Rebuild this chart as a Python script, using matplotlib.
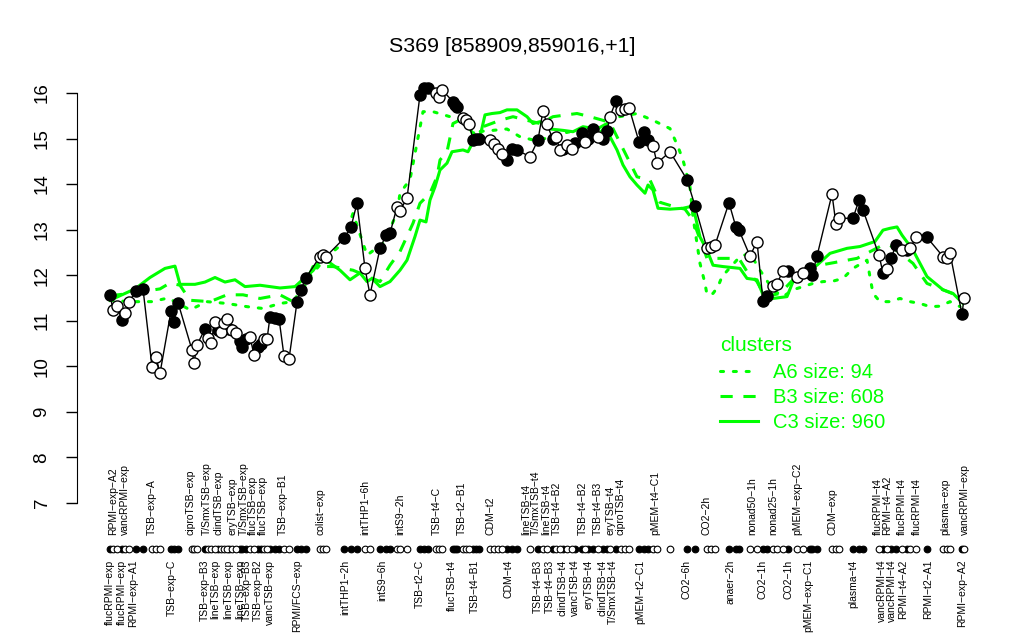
import numpy as np
import matplotlib
matplotlib.use("Agg")
import matplotlib.pyplot as plt

plt.rcParams['font.family'] = ['Liberation Sans', 'DejaVu Sans']

# ============================================
# DATA
# ============================================

title = "S369 [858909,859016,+1]"

# sample position along the x axis, expression value, filled marker (1) or open (0)
pos = [10, 13, 17, 22, 25, 29, 36, 43,
       52, 56, 60, 71, 74, 78, 92, 94, 97,
       105, 108, 111, 115, 118, 121, 124, 127, 129, 132, 136, 140, 142, 146, 150,
       154, 158, 161, 164, 167, 170, 175, 179, 184, 189,
       197, 201, 206, 220, 223, 226, 244, 251, 257, 265, 270,
       280, 286, 290, 297, 300, 307, 320, 324, 328, 336, 339, 342,
       353, 355, 357, 363, 366, 369, 373, 376, 379, 390, 394, 398, 402,
       407, 412, 417, 430, 438, 443, 447, 453, 456, 460, 463, 467, 472,
       475, 482, 485, 488, 493, 498, 503, 507, 510, 516, 521, 525, 529,
       539, 544, 548, 553, 557, 570, 587, 595, 607, 611, 615,
       629, 636, 639, 650, 657, 663, 667, 673, 677, 683, 688,
       697, 703, 710, 712, 717, 732, 736, 739, 753, 759, 763,
       779, 783, 787, 791, 796, 802, 807, 810, 816, 827,
       843, 847, 850, 862, 864]

expr = [11.57, 11.24, 11.32, 11.02, 11.18, 11.41, 11.66, 11.70,
        9.99, 10.20, 9.85, 11.21, 10.97, 11.40, 10.36, 10.07, 10.47,
        10.82, 10.62, 10.52, 10.98, 10.80, 10.76, 10.95, 11.04, 10.83, 10.80, 10.73, 10.55, 10.43, 10.59, 10.65,
        10.25, 10.42, 10.49, 10.61, 10.59, 11.09, 11.07, 11.05, 10.23, 10.16,
        11.41, 11.68, 11.95, 12.41, 12.44, 12.41, 12.81, 13.06, 13.58, 12.15, 11.57,
        12.59, 12.88, 12.92, 13.50, 13.42, 13.69, 15.96, 16.10, 16.12, 15.99, 15.92, 16.07,
        15.81, 15.74, 15.70, 15.45, 15.40, 15.33, 14.97, 15.00, 15.00, 14.97, 14.88, 14.78, 14.67,
        14.53, 14.78, 14.75, 14.60, 14.97, 15.61, 15.31, 14.98, 15.03, 14.75, 14.78, 14.86, 14.76,
        14.91, 15.13, 14.93, 14.98, 15.20, 15.04, 14.98, 15.17, 15.48, 15.83, 15.63, 15.64, 15.68,
        14.93, 15.15, 14.97, 14.84, 14.46, 14.71, 14.10, 13.52, 12.59, 12.61, 12.66,
        13.59, 13.05, 12.99, 12.42, 12.74, 11.44, 11.54, 11.76, 11.81, 12.10, 12.10,
        11.97, 12.05, 12.16, 12.00, 12.42, 13.78, 13.12, 13.25, 13.25, 13.65, 13.43,
        12.44, 12.05, 12.13, 12.37, 12.66, 12.55, 12.55, 12.59, 12.83, 12.83,
        12.41, 12.37, 12.49, 11.14, 11.50]

filled = [1, 0, 0, 1, 0, 0, 1, 1,
          0, 0, 0, 1, 1, 1, 0, 0, 0,
          1, 0, 0, 0, 1, 0, 0, 0, 1, 0, 0, 1, 1, 1, 0,
          0, 1, 1, 0, 0, 1, 1, 1, 0, 0,
          1, 1, 1, 0, 0, 0, 1, 1, 1, 0, 0,
          1, 1, 1, 0, 0, 0, 1, 1, 1, 0, 0, 0,
          1, 1, 1, 0, 0, 0, 1, 1, 1, 0, 0, 0, 0,
          1, 1, 1, 0, 1, 0, 0, 1, 0, 0, 1, 0, 0,
          1, 1, 0, 1, 1, 0, 1, 1, 0, 1, 0, 0, 0,
          1, 1, 1, 0, 0, 0, 1, 1, 0, 0, 0,
          1, 1, 1, 0, 0, 1, 1, 0, 0, 0, 1,
          0, 0, 1, 1, 1, 0, 0, 0, 1, 1, 1,
          0, 1, 0, 1, 1, 0, 1, 0, 0, 1,
          0, 0, 0, 1, 0]

# cluster profiles (own vertices)
c3_pos = [10, 25, 35, 50, 65, 75, 80, 95, 105, 115, 125, 135, 145, 160, 180, 195, 205,
          213, 220, 230, 240, 250, 260, 267, 272, 280, 290, 300, 307, 315, 320, 326,
          330, 335, 340, 347, 352, 363, 368, 373, 380, 385, 392, 400, 407, 417, 427,
          433, 440, 450, 463, 473, 483, 497, 507, 510, 517, 523, 530, 537, 545, 548,
          553, 558, 570, 583, 593, 600, 607, 613, 623, 640, 647, 657, 663, 673, 687,
          695, 703, 717, 730, 747, 760, 775, 783, 790, 797, 802, 813, 827, 843, 853, 863]
c3_val = [11.45, 11.60, 11.70, 11.95, 12.15, 12.20, 11.80, 11.80, 11.85, 11.95, 11.85,
          11.90, 11.75, 11.78, 11.72, 11.75, 11.95, 12.10, 12.33, 12.27, 12.11, 11.90,
          12.05, 11.86, 11.93, 11.75, 11.86, 12.11, 12.33, 12.85, 13.21, 13.17, 13.65,
          13.94, 14.31, 14.46, 14.71, 14.75, 14.71, 14.93, 15.04, 15.52, 15.55, 15.57,
          15.63, 15.63, 15.48, 15.33, 15.37, 15.21, 15.18, 15.15, 15.26, 15.21, 15.33,
          15.04, 14.75, 14.42, 14.16, 13.98, 13.80, 13.98, 13.87, 13.47, 13.45, 13.47,
          13.52, 12.84, 12.55, 12.22, 12.19, 12.15, 11.93, 11.90, 11.57, 11.49, 11.53,
          11.97, 12.08, 12.22, 12.48, 12.59, 12.63, 12.74, 12.99, 13.03, 13.06, 12.88,
          12.55, 11.97, 11.68, 11.60, 11.38]

b3_pos = [10, 30, 45, 60, 70, 80, 90, 110, 127, 143, 160, 180, 193, 203, 213, 233, 253,
          280, 290, 300, 313, 320, 330, 337, 340, 347, 353, 363, 373, 383, 400, 413, 427,
          440, 453, 477, 490, 503, 510, 517, 527, 537, 550, 560, 575, 585, 593, 607, 630,
          640, 647, 657, 665, 680, 693, 720, 757, 780, 790, 813, 827, 843, 860]
b3_val = [11.55, 11.60, 11.65, 11.70, 11.83, 11.78, 11.45, 11.42, 11.57, 11.57, 11.49,
          11.57, 11.42, 11.68, 12.19, 12.19, 12.11, 11.86, 12.22, 12.52, 13.14, 13.58,
          13.80, 14.16, 14.53, 14.71, 15.33, 15.44, 15.11, 15.26, 15.40, 15.48, 15.40,
          15.33, 15.48, 15.55, 15.48, 15.40, 15.35, 15.04, 14.60, 14.16, 14.09, 13.60,
          13.50, 13.45, 13.21, 12.37, 12.37, 12.33, 12.08, 11.86, 11.53, 11.60, 11.90,
          12.22, 12.37, 12.63, 12.66, 12.26, 11.82, 11.68, 11.53]

a6_pos = [10, 30, 52, 68, 90, 107, 127, 147, 163, 180, 193, 210, 227, 243, 253, 267,
          283, 297, 300, 310, 323, 333, 350, 363, 377, 393, 407, 420, 433, 445, 460,
          480, 497, 512, 537, 553, 570, 578, 583, 590, 593, 600, 605, 607, 613, 618,
          622, 640, 650, 660, 673, 683, 693, 703, 713, 723, 733, 743, 753, 767, 773,
          780, 790, 800, 810, 820, 830, 840, 850, 860]
a6_val = [11.45, 11.42, 11.42, 11.50, 11.24, 11.42, 11.38, 11.31, 11.27, 11.38, 11.42,
          11.97, 12.41, 12.70, 13.36, 12.44, 12.70, 13.36, 13.80, 14.10, 15.59, 15.59,
          15.48, 15.40, 15.15, 15.18, 15.21, 15.04, 14.97, 15.00, 15.10, 15.20, 15.04,
          15.45, 15.55, 15.40, 15.22, 14.82, 14.53, 13.94, 13.28, 12.26, 11.82, 11.57,
          11.60, 11.75, 11.97, 12.41, 12.48, 12.11, 11.68, 11.53, 11.68, 11.75, 11.82,
          11.86, 11.87, 11.93, 12.15, 12.33, 11.60, 11.42, 11.42, 11.49, 11.42, 11.38,
          11.31, 11.32, 11.42, 11.31]

cluster_names = ["A6 size: 94", "B3 size: 608", "C3 size: 960"]

# condition labels above and below the sample row
top_labels = ["RPMI−exp−A2", "vancRPMI−exp", "TSB−exp−A", "ciproTSB−exp", "T/SmxTSB−exp",
              "clindTSB−exp", "eryTSB−exp", "T/SmxTSB−exp", "flucTSB−exp", "flucTSB−exp",
              "TSB−exp−B1", "colist−exp", "intTHP1−6h", "intS9−2h", "TSB−t4−C", "TSB−t2−B1",
              "CDM−t2", "lineTSB−t4", "T/SmxTSB−t4", "lineTSB−t4", "TSB−t4−B2", "TSB−t4−B2",
              "TSB−t4−B3", "eryTSB−t4", "ciproTSB−t4", "pMEM−t4−C1", "CO2−2h", "nonad50−1h",
              "nonad25−1h", "pMEM−exp−C2", "CDM−exp", "flucRPMI−t4", "RPMI−t4−A2",
              "flucRPMI−t4", "flucRPMI−t4", "plasma−exp", "vancRPMI−exp"]
top_pos = [13, 25, 52, 91, 107, 119, 132, 144, 153, 163, 183, 220, 265, 300, 337, 362,
           390, 426, 436, 446, 457, 483, 498, 510, 520, 555, 607, 652, 673, 697, 732,
           778, 787, 802, 817, 845, 865]

bottom_labels = ["flucRPMI−exp", "flucRPMI−exp", "RPMI−exp−A1", "TSB−exp−C", "TSB−exp−B3",
                 "lineTSB−exp", "lineTSB−exp", "lineTSB−exp", "TSB−exp−B3", "TSB−exp−B2",
                 "vancTSB−exp", "RPMI/FCS−exp", "intTHP1−2h", "intS9−6h", "TSB−t2−C",
                 "flucTSB−t4", "TSB−t4−B1", "CDM−t4", "TSB−t4−B3", "TSB−t4−B3", "clindTSB−t4",
                 "vancTSB−t4", "eryTSB−t4", "clindTSB−t4", "T/SmxTSB−t4", "pMEM−t2−C1",
                 "CO2−6h", "anaer−2h", "CO2−1h", "CO2−1h", "pMEM−exp−C1", "plasma−t4",
                 "vancRPMI−t4", "vancRPMI−t4", "RPMI−t4−A2", "RPMI−t2−A1", "RPMI−exp−A2"]
bottom_pos = [10, 22, 33, 72, 105, 115, 128, 140, 147, 158, 170, 197, 245, 282, 320,
              352, 375, 408, 438, 450, 462, 475, 488, 502, 513, 540, 587, 630, 663, 688,
              708, 753, 782, 792, 803, 828, 862]

# ============================================
# PLOT
# ============================================

green = "#00ff00"
fig = plt.figure(figsize=(10.24, 6.4), dpi=100)
ax = fig.add_axes([77 / 1024, 137 / 640, 923 / 1024, 410 / 640])
ax.set_xlim(-23, 900)
ax.set_ylim(7, 16)

la, = ax.plot(a6_pos, a6_val, color=green, lw=2.2, linestyle=(0, (1, 3.2)),
              dash_capstyle='round', clip_on=False, zorder=2)
lb, = ax.plot(b3_pos, b3_val, color=green, lw=2.2, linestyle=(0, (4, 3.5)),
              clip_on=False, zorder=2)
lc, = ax.plot(c3_pos, c3_val, color=green, lw=2.2, clip_on=False, zorder=2)

pos = np.array(pos)
expr = np.array(expr)
filled = np.array(filled, dtype=bool)

ax.plot(pos, expr, color='black', lw=1, clip_on=False, zorder=3)
ax.plot(pos[filled], expr[filled], 'o', ms=8, mfc='black', mec='black', mew=1,
        clip_on=False, zorder=4)
ax.plot(pos[~filled], expr[~filled], 'o', ms=8, mfc='white', mec='black', mew=1,
        clip_on=False, zorder=4)

# sample row below the axis
row = np.full(len(pos), 6.0)
ax.plot(pos[filled], row[filled], 'o', ms=4.8, mfc='black', mec='black', mew=0.8,
        clip_on=False)
ax.plot(pos[~filled], row[~filled], 'o', ms=4.8, mfc='white', mec='black', mew=0.8,
        clip_on=False)

for lab, x in zip(top_labels, top_pos):
    ax.annotate(lab, (x, 6.0), xytext=(0, 10), textcoords='offset points',
                rotation=90, ha='center', va='bottom', fontsize=7.5, annotation_clip=False)
for lab, x in zip(bottom_labels, bottom_pos):
    ax.annotate(lab, (x, 6.0), xytext=(0, -8), textcoords='offset points',
                rotation=90, ha='center', va='top', fontsize=7.5, annotation_clip=False)

for s in ['top', 'right', 'bottom']:
    ax.spines[s].set_visible(False)
ax.spines['left'].set_bounds(7, 16)
ax.set_xticks([])
ax.set_yticks(range(7, 17))
ax.tick_params(axis='y', length=8, width=1, pad=11, labelsize=13.5, labelrotation=90)
for t in ax.get_yticklabels():
    t.set_va('center')

fig.text(0.5, 1 - 47 / 640, title, ha='center', va='center', fontsize=15.4)

leg = ax.legend([la, lb, lc], cluster_names, title='clusters', frameon=False,
                loc='upper left', bbox_to_anchor=(720 / 1024, 1 - 336 / 640),
                bbox_transform=fig.transFigure, fontsize=14.5, title_fontsize=15,
                handlelength=1.9, handletextpad=0.75, labelspacing=0.3,
                borderpad=0, borderaxespad=0, alignment='left', labelcolor=green)
leg.get_title().set_color(green)
leg._legend_box.sep = 6

plt.savefig("out.png", dpi=100)
